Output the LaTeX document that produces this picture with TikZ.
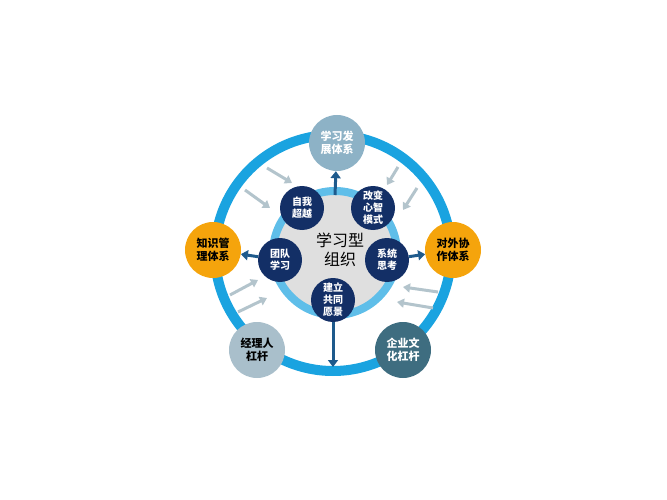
\documentclass[tikz,border=0pt]{standalone}
\usepackage{fontspec}
\setmainfont{Noto Sans CJK SC}
\usetikzlibrary{arrows.meta}
\definecolor{ringblue}{HTML}{1AA3E0}
\definecolor{navy}{HTML}{132F66}
\definecolor{topblue}{HTML}{8DB2C6}
\definecolor{paleblue}{HTML}{A9BFCB}
\definecolor{teal}{HTML}{3E6D80}
\definecolor{orange}{HTML}{F5A40C}
\definecolor{darrow}{HTML}{1E5A8C}
\definecolor{garrow}{HTML}{B3C4CC}
\tikzset{
    outer/.style={circle, minimum size=56pt, inner sep=0pt, align=center, font=\fontsize{11}{13}\selectfont\bfseries},
    inner/.style={circle, fill=navy, text=white, minimum size=44pt, inner sep=0pt, align=center, font=\fontsize{10}{12}\selectfont\bfseries},
    main/.style={draw=darrow, line width=3pt, -{Triangle[length=7pt,width=10pt]}},
    side/.style={draw=garrow, line width=3pt, -{Triangle[length=7pt,width=9pt]}}
}
\begin{document}
\begin{tikzpicture}[x=1pt, y=-1pt]
        \useasboundingbox (0,0) rectangle (667,500);
        \draw [ringblue, line width=10pt] (333,253) circle (118);
        \draw [ringblue!70, fill=gray!25, line width=8pt] (335,253) circle (62);
        % arrows from the center
        \coordinate (up) at (335,195);
        \coordinate (down) at (333,367);
        \node [outer, fill=topblue, text=white] (learn) at (337,143) {学习发\\展体系};
        \node [outer, fill=orange, text=black] (know) at (213,250) {知识管\\理体系};
        \node [outer, fill=orange, text=black] (coop) at (453,250) {对外协\\作体系};
        \node [outer, fill=paleblue, text=black] (mgr) at (257,350) {经理人\\杠杆};
        \node [outer, fill=teal, text=white] (cult) at (403,350) {企业文\\化杠杆};
        \draw [main] (up) -- (learn);
        \node [inner] (self) at (302,208) {自我\\超越};
        \node [inner] (mind) at (373,208) {改变\\心智\\模式};
        \node [inner] (team) at (280,260) {团队\\学习};
        \node [inner] (sys) at (387,260) {系统\\思考};
        \node [inner] (vision) at (333,300) {建立\\共同\\愿景};
        \node [font=\fontsize{16}{19}\selectfont, align=center] (org) at (340,250) {学习型\\组织};
        \draw [main] (team) -- (know);
        \draw [main] (sys) -- (coop);
        \draw [main] (vision) -- (down);
        % outside influences
        \coordinate (a1) at (267,168); \coordinate (b1) at (292,183);
        \coordinate (a2) at (245,190); \coordinate (b2) at (270,208);
        \coordinate (a3) at (398,167); \coordinate (b3) at (387,185);
        \coordinate (a4) at (417,188); \coordinate (b4) at (403,210);
        \coordinate (a5) at (230,295); \coordinate (b5) at (258,280);
        \coordinate (a6) at (238,312); \coordinate (b6) at (267,298);
        \coordinate (a7) at (438,292); \coordinate (b7) at (403,287);
        \coordinate (a8) at (433,308); \coordinate (b8) at (397,302);
        \foreach \i in {1,...,8}
            \draw [side] (a\i) -- (b\i);
    \end{tikzpicture}
\end{document}
